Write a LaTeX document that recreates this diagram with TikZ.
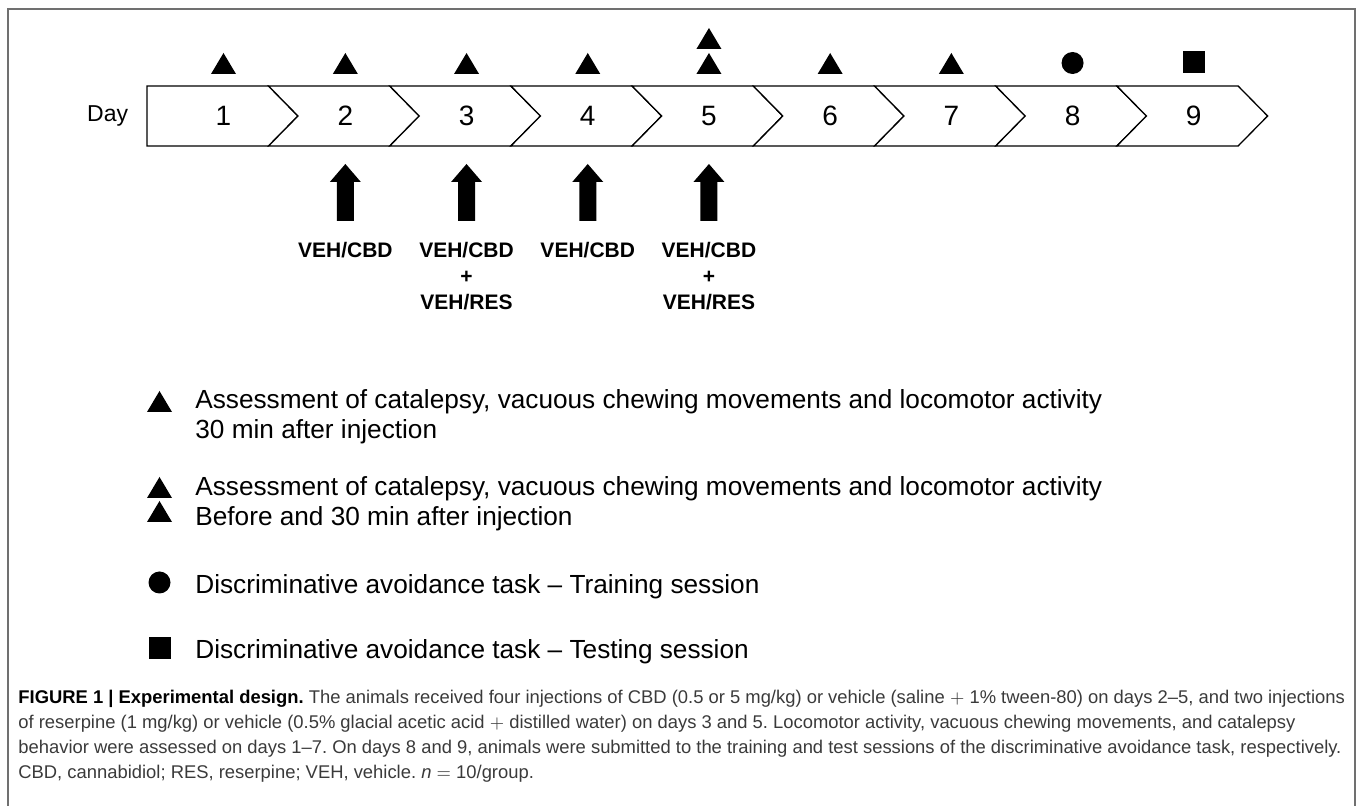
\documentclass[tikz,border=0pt]{standalone}
\usepackage{fontspec}
\setmainfont{Liberation Sans}
\newfontfamily\capfont[Ligatures=TeX]{Liberation Sans}
\definecolor{framegray}{HTML}{707070}
\definecolor{captiongray}{HTML}{3A3A3A}
\frenchspacing

\newcommand\daytextstyle{\fontsize{14}{16}\selectfont}
\newcommand\injtextstyle{\bfseries\fontsize{10.5}{13}\selectfont}
\newcommand\legtextstyle{\fontsize{13.1}{15}\selectfont}
\newcommand\captextstyle{\capfont\fontsize{9.2}{12.5}\selectfont}
\newcommand\daywidth{121.2}
\newcommand\daytip{29.5}
\newcommand\daybandstyle{[line width=.65pt, fill=white]}
\newcommand\startday{\pgfmathparse{268.5}\let\x\pgfmathresult}
\newcommand\dayfirst[1]{
  \draw (147, 86)\daybandstyle -- (\x, 86) -- ++ (\daytip, 30) -- ++ (-\daytip, 30) -- (147, 146) -- cycle ;
  \node[font=\daytextstyle] (day#1) at (223.5, 116) {#1} ;
}
\newcommand\daynext[1]{
  \draw (\x, 86)\daybandstyle -- ++ (\daywidth, 0) -- ++ (\daytip, 30) -- ++ (-\daytip, 30) -- ++ (-\daywidth, 0) -- ++ (\daytip, -30) -- cycle ;
  \node[font=\daytextstyle] (day#1) at (\x + \daywidth * 0.5 + \daytip * 0.5 + 1.5, 116) {#1} ;
  \pgfmathparse{\x + \daywidth}\let\x\pgfmathresult
}
\newcommand\marktri[2]{
  \fill (#1 |- 0, #2) ++ (-12.5, 0) -- ++ (25, 0) -- ++ (-12.5, -21) -- cycle ;
}
\newcommand\markdot[2]{
  \fill (#1 |- 0, #2) circle [radius=11] ;
}
\newcommand\marksq[2]{
  \fill (#1 |- 0, #2) ++ (-11, -11) rectangle ++ (22, 22) ;
}
\newcommand\injarrow[1]{
  \fill (#1 |- 0, 221) ++ (-8.5, 0) -- ++ (0, -39) -- ++ (-7, 0) -- ++ (15.5, -18) -- ++ (15.5, 18) -- ++ (-7, 0) -- ++ (0, 39) -- cycle ;
}

\begin{document}
\begin{tikzpicture}[x=.5pt, y=-.5pt,
    injtext/.style={font=\injtextstyle, align=center, inner sep=0, anchor=north},
    legtext/.style={font=\legtextstyle, align=left, inner sep=0, anchor=north west}]
    \useasboundingbox (0, 0) rectangle (1357, 806) ;
    \draw[framegray, line width=.75pt] (8, 806) -- (8, 9) -- (1355, 9) -- (1355, 806) ;
    \node[font=\fontsize{11.5}{13}\selectfont, anchor=east, inner sep=0] (daylabel) at (128.5, 116) {Day} ;
    \startday
    \dayfirst{1}
    \daynext{2}
    \daynext{3}
    \daynext{4}
    \daynext{5}
    \daynext{6}
    \daynext{7}
    \daynext{8}
    \daynext{9}
    \marktri{day1}{74}
    \marktri{day2}{74}
    \marktri{day3}{74}
    \marktri{day4}{74}
    \marktri{day5}{74}
    \marktri{day5}{49}
    \marktri{day6}{74}
    \marktri{day7}{74}
    \markdot{day8}{63}
    \marksq{day9}{62.5}
    \injarrow{day2}
    \injarrow{day3}
    \injarrow{day4}
    \injarrow{day5}
    \node[injtext] (inj2) at (day2 |- 0, 242) {VEH/CBD} ;
    \node[injtext] (inj3) at (day3 |- 0, 242) {VEH/CBD\\+\\VEH/RES} ;
    \node[injtext] (inj4) at (day4 |- 0, 242) {VEH/CBD} ;
    \node[injtext] (inj5) at (day5 |- 0, 242) {VEH/CBD\\+\\VEH/RES} ;
    \coordinate (legx) at (159.5, 0) ;
    \marktri{legx}{412}
    \marktri{legx}{498}
    \marktri{legx}{522}
    \markdot{legx}{582.5}
    \marksq{legx}{648}
    \node[legtext] (leg1) at (195, 389) {Assessment of catalepsy, vacuous chewing movements and locomotor activity\\30 min after injection} ;
    \node[legtext] (leg2) at (195, 476) {Assessment of catalepsy, vacuous chewing movements and locomotor activity\\Before and 30 min after injection} ;
    \node[legtext] (leg3) at (195, 574) {Discriminative avoidance task – Training session} ;
    \node[legtext] (leg4) at (195, 639) {Discriminative avoidance task – Testing session} ;
    \node[font=\captextstyle, text=captiongray, align=left, inner sep=0, anchor=north west] (caption) at (18, 690) {{\bfseries\color{black}FIGURE 1 | Experimental design.} The animals received four injections of CBD (0.5 or 5 mg/kg) or vehicle (saline $+$ 1\% tween-80) on days 2–5, and two injections\\of reserpine (1 mg/kg) or vehicle (0.5\% glacial acetic acid $+$ distilled water) on days 3 and 5. Locomotor activity, vacuous chewing movements, and catalepsy\\behavior were assessed on days 1–7. On days 8 and 9, animals were submitted to the training and test sessions of the discriminative avoidance task, respectively.\\CBD, cannabidiol; RES, reserpine; VEH, vehicle. \textit{n} $=$ 10/group.} ;
  \end{tikzpicture}
\end{document}
